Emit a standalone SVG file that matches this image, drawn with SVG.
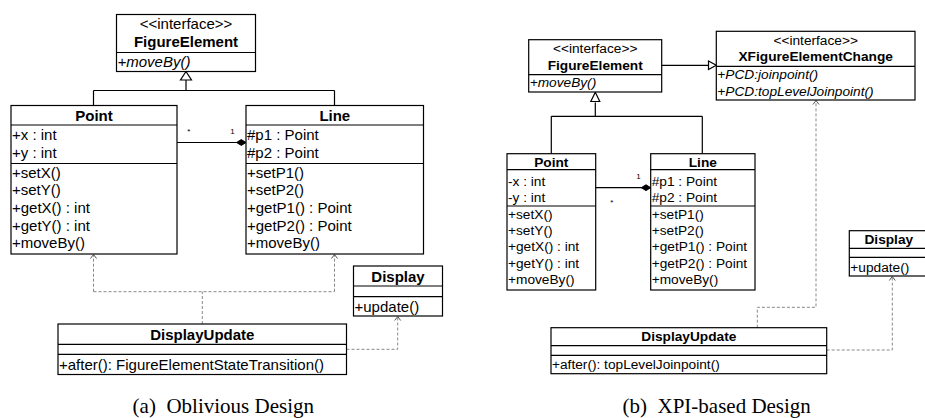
<svg xmlns="http://www.w3.org/2000/svg" width="925" height="418" viewBox="0 0 925 418">
<style>
.box{fill:#fff;stroke:#000;stroke-width:1.2}
.div{stroke:#000;stroke-width:1.2}
.t{font-family:"Liberation Sans",Arial,sans-serif;fill:#000}
.a{font-size:15px}
.b{font-size:13.7px}
.bold{font-weight:bold}
.it{font-style:italic}
.mid{text-anchor:middle}
.solid{fill:none;stroke:#000;stroke-width:1.2}
.dash{fill:none;stroke:#888;stroke-width:1;stroke-dasharray:3,2}
.arr{fill:none;stroke:#555;stroke-width:1}
.tri{fill:#fff;stroke:#000;stroke-width:1.2}
.dia{fill:#000;stroke:#000;stroke-width:1}
.cap{font-family:"Liberation Serif","Times New Roman",serif;font-size:21px;text-anchor:middle;fill:#000}
.m{font-family:"Liberation Sans",Arial,sans-serif;font-size:8px;fill:#000;text-anchor:middle}
</style>

<!-- ===== (a) Oblivious Design ===== -->
<g id="a-connectors">
  <path class="solid" d="M186,80 V90.5 M93.5,90.5 H334.5 M93.5,90.5 V105.5 M334.5,90.5 V105.5"/>
  <polygon class="tri" points="186,71.5 180.5,80 191.5,80"/>
  <path class="solid" d="M177,142.5 H237"/>
  <polygon class="dia" points="246,142.5 241.3,139.6 236.6,142.5 241.3,145.4"/>
  <text class="m" x="188.7" y="134">*</text>
  <text class="m" x="232.5" y="134">1</text>
  <path class="dash" d="M202.3,324 V291.7 M93.5,291.7 H334.5 M93.5,291.7 V255 M334.5,291.7 V255"/>
  <polyline class="arr" points="90.5,258.5 93.5,254.5 96.5,258.5"/>
  <polyline class="arr" points="331.5,258.5 334.5,254.5 337.5,258.5"/>
  <path class="dash" d="M346.5,349.3 H397.7 V317"/>
  <polyline class="arr" points="394.7,320.5 397.7,316.5 400.7,320.5"/>
</g>

<g id="a-FigureElement">
  <rect class="box" x="116.5" y="14.5" width="139" height="57"/>
  <line class="div" x1="116.5" y1="52.5" x2="255.5" y2="52.5"/>
  <text class="t a mid" x="186" y="29">&lt;&lt;interface&gt;&gt;</text>
  <text class="t a mid bold" x="186" y="47">FigureElement</text>
  <text class="t a it" x="117.5" y="67">+moveBy()</text>
</g>

<g id="a-Point">
  <rect class="box" x="11" y="105.5" width="166" height="148.5"/>
  <line class="div" x1="11" y1="125" x2="177" y2="125"/>
  <line class="div" x1="11" y1="163.5" x2="177" y2="163.5"/>
  <text class="t a mid bold" x="94" y="121">Point</text>
  <text class="t a" x="12" y="140">+x : int</text>
  <text class="t a" x="12" y="157.5">+y : int</text>
  <text class="t a" x="12" y="177.5">+setX()</text>
  <text class="t a" x="12" y="195.2">+setY()</text>
  <text class="t a" x="12" y="212.9">+getX() : int</text>
  <text class="t a" x="12" y="230.6">+getY() : int</text>
  <text class="t a" x="12" y="248.3">+moveBy()</text>
</g>

<g id="a-Line">
  <rect class="box" x="246" y="105.5" width="177.5" height="148.5"/>
  <line class="div" x1="246" y1="125" x2="423.5" y2="125"/>
  <line class="div" x1="246" y1="163.5" x2="423.5" y2="163.5"/>
  <text class="t a mid bold" x="334.8" y="121">Line</text>
  <text class="t a" x="247" y="140">#p1 : Point</text>
  <text class="t a" x="247" y="157.5">#p2 : Point</text>
  <text class="t a" x="247" y="177.5">+setP1()</text>
  <text class="t a" x="247" y="195.2">+setP2()</text>
  <text class="t a" x="247" y="212.9">+getP1() : Point</text>
  <text class="t a" x="247" y="230.6">+getP2() : Point</text>
  <text class="t a" x="247" y="248.3">+moveBy()</text>
</g>

<g id="a-Display">
  <rect class="box" x="353.5" y="266" width="89" height="50"/>
  <line class="div" x1="353.5" y1="286" x2="442.5" y2="286"/>
  <line class="div" x1="353.5" y1="296.7" x2="442.5" y2="296.7"/>
  <text class="t a mid bold" x="398" y="281.5">Display</text>
  <text class="t a" x="354.5" y="311.5">+update()</text>
</g>

<g id="a-DisplayUpdate">
  <rect class="box" x="58" y="324" width="288.5" height="50.5"/>
  <line class="div" x1="58" y1="344.3" x2="346.5" y2="344.3"/>
  <line class="div" x1="58" y1="354.3" x2="346.5" y2="354.3"/>
  <text class="t a mid bold" x="202.3" y="339.5">DisplayUpdate</text>
  <text class="t a" x="59" y="370">+after(): FigureElementStateTransition()</text>
</g>

<text class="cap" x="223.3" y="413" xml:space="preserve">(a)  Oblivious Design</text>

<!-- ===== (b) XPI-based Design ===== -->
<g id="b-connectors">
  <path class="solid" d="M595.3,102.5 V116.3 M551.3,116.3 H702.3 M551.3,116.3 V153.7 M702.3,116.3 V153.7"/>
  <polygon class="tri" points="595.3,92.3 590.8,101.5 599.8,101.5"/>
  <path class="solid" d="M661.7,65.3 H708.5"/>
  <polygon class="tri" points="716.3,65.3 708.5,61 708.5,69.6"/>
  <path class="solid" d="M595.7,187.7 H642"/>
  <polygon class="dia" points="650.7,187.7 646,184.8 641.3,187.7 646,190.6"/>
  <text class="m" x="638.5" y="179">1</text>
  <text class="m" x="611.7" y="205">*</text>
  <path class="dash" d="M757.3,327.7 V307.3 H816 V101"/>
  <polyline class="arr" points="813,104.5 816,100.5 819,104.5"/>
  <path class="dash" d="M826.7,350 H892.3 V277"/>
  <polyline class="arr" points="889.3,280.5 892.3,276.5 895.3,280.5"/>
</g>

<g id="b-FigureElement">
  <rect class="box" x="528.7" y="39.7" width="133" height="52.3"/>
  <line class="div" x1="528.7" y1="74.7" x2="661.7" y2="74.7"/>
  <text class="t b mid" x="595.2" y="53">&lt;&lt;interface&gt;&gt;</text>
  <text class="t b mid bold" x="595.2" y="69.5">FigureElement</text>
  <text class="t b it" x="529.7" y="86.5">+moveBy()</text>
</g>

<g id="b-XFigureElementChange">
  <rect class="box" x="716.3" y="31.3" width="198.7" height="68.7"/>
  <line class="div" x1="716.3" y1="66.3" x2="915" y2="66.3"/>
  <text class="t b mid" x="815.7" y="44.5">&lt;&lt;interface&gt;&gt;</text>
  <text class="t b mid bold" x="815.7" y="61">XFigureElementChange</text>
  <text class="t b it" x="717.3" y="79">+PCD:joinpoint()</text>
  <text class="t b it" x="717.3" y="95.5">+PCD:topLevelJoinpoint()</text>
</g>

<g id="b-Point">
  <rect class="box" x="507" y="153.7" width="88.7" height="136.3"/>
  <line class="div" x1="507" y1="169.7" x2="595.7" y2="169.7"/>
  <line class="div" x1="507" y1="206" x2="595.7" y2="206"/>
  <text class="t b mid bold" x="551.3" y="166.5">Point</text>
  <text class="t b" x="508" y="186">-x : int</text>
  <text class="t b" x="508" y="202">-y : int</text>
  <text class="t b" x="508" y="219">+setX()</text>
  <text class="t b" x="508" y="235.2">+setY()</text>
  <text class="t b" x="508" y="251.4">+getX() : int</text>
  <text class="t b" x="508" y="267.6">+getY() : int</text>
  <text class="t b" x="508" y="283.8">+moveBy()</text>
</g>

<g id="b-Line">
  <rect class="box" x="650.7" y="153.7" width="104.3" height="136.3"/>
  <line class="div" x1="650.7" y1="169.7" x2="755" y2="169.7"/>
  <line class="div" x1="650.7" y1="206" x2="755" y2="206"/>
  <text class="t b mid bold" x="702.8" y="166.5">Line</text>
  <text class="t b" x="651.7" y="186">#p1 : Point</text>
  <text class="t b" x="651.7" y="202">#p2 : Point</text>
  <text class="t b" x="651.7" y="219">+setP1()</text>
  <text class="t b" x="651.7" y="235.2">+setP2()</text>
  <text class="t b" x="651.7" y="251.4">+getP1() : Point</text>
  <text class="t b" x="651.7" y="267.6">+getP2() : Point</text>
  <text class="t b" x="651.7" y="283.8">+moveBy()</text>
</g>

<g id="b-Display">
  <rect class="box" x="849.3" y="230.7" width="80" height="45.3"/>
  <line class="div" x1="849.3" y1="248.3" x2="929.3" y2="248.3"/>
  <line class="div" x1="849.3" y1="257.3" x2="929.3" y2="257.3"/>
  <text class="t b mid bold" x="888.8" y="243.5">Display</text>
  <text class="t b" x="850.3" y="272">+update()</text>
</g>

<g id="b-DisplayUpdate">
  <rect class="box" x="551" y="327.7" width="275.7" height="46"/>
  <line class="div" x1="551" y1="345.7" x2="826.7" y2="345.7"/>
  <line class="div" x1="551" y1="355.3" x2="826.7" y2="355.3"/>
  <text class="t b mid bold" x="688.8" y="341">DisplayUpdate</text>
  <text class="t b" x="552" y="369">+after(): topLevelJoinpoint()</text>
</g>

<text class="cap" x="716.7" y="413" xml:space="preserve">(b)  XPI-based Design</text>
</svg>
